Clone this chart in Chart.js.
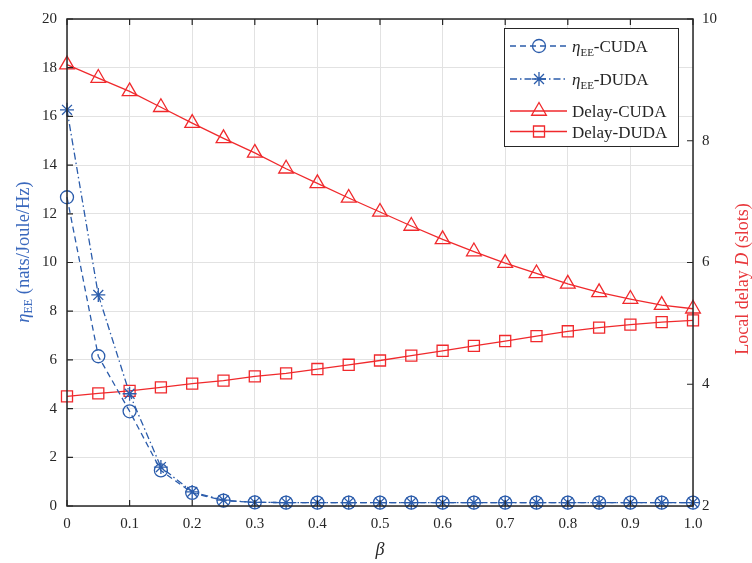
<!DOCTYPE html>
<html><head><meta charset="utf-8">
<style>html,body{margin:0;padding:0;background:#fff;} #wrap{position:relative;width:752px;height:563px;}</style>
<script src="https://cdn.jsdelivr.net/npm/chart.js@4/dist/chart.umd.min.js"></script>
</head><body><div id="wrap"><canvas id="c" width="752" height="563"></canvas></div>
<script>
const betaValues = [0, 0.05, 0.1, 0.15, 0.2, 0.25, 0.3, 0.35, 0.4, 0.45, 0.5, 0.55, 0.6, 0.65, 0.7, 0.75, 0.8, 0.85, 0.9, 0.95, 1.0];
const etaCUDA   = [12.68, 6.15, 3.89, 1.46, 0.54, 0.22, 0.15, 0.14, 0.14, 0.14, 0.14, 0.14, 0.14, 0.14, 0.14, 0.14, 0.14, 0.14, 0.14, 0.14, 0.14];
const etaDUDA   = [16.27, 8.67, 4.61, 1.60, 0.58, 0.24, 0.15, 0.14, 0.14, 0.14, 0.14, 0.14, 0.14, 0.14, 0.14, 0.14, 0.14, 0.14, 0.14, 0.14, 0.14];
const delayCUDA = [9.25, 9.03, 8.81, 8.55, 8.29, 8.04, 7.80, 7.54, 7.30, 7.06, 6.83, 6.60, 6.38, 6.18, 5.99, 5.82, 5.65, 5.51, 5.40, 5.30, 5.24];
const delayDUDA = [3.80, 3.85, 3.89, 3.95, 4.01, 4.06, 4.13, 4.18, 4.25, 4.32, 4.39, 4.47, 4.55, 4.63, 4.71, 4.79, 4.87, 4.93, 4.98, 5.02, 5.05];
const xTickValues = [0, 0.1, 0.2, 0.3, 0.4, 0.5, 0.6, 0.7, 0.8, 0.9, 1.0];
const xTickLabels = ['0', '0.1', '0.2', '0.3', '0.4', '0.5', '0.6', '0.7', '0.8', '0.9', '1.0'];
const seriesNames = ['-CUDA', '-DUDA', 'Delay-CUDA', 'Delay-DUDA'];
const xTitle = 'β';
const leftTitle = ['η', 'EE', ' (nats/Joule/Hz)'];
const rightTitle = ['Local delay ', 'D', ' (slots)'];

const BLUE = '#2b5cab';
const BLUE_T = '#3a68bd';
const RED = '#f0292c';
const RED_T = '#e8383c';
const INK = '#262626';
const SERIF = '"Liberation Serif", "Times New Roman", serif';

const pts = arr => arr.map((v, i) => ({x: betaValues[i], y: v}));

const styles = [
  {color: BLUE, dash: [6, 4], point: 'circle', r: 6.5},
  {color: BLUE, dash: [7, 3, 1.5, 3], point: 'star', r: 7},
  {color: RED, dash: [], point: 'triangle', r: 8.5},
  {color: RED, dash: [], point: 'rect', r: 7.8}
];

function ds(label, data, st, axis) {
  return {
    label, data: pts(data), yAxisID: axis, clip: false,
    borderColor: st.color, borderWidth: 1.3, borderDash: st.dash,
    pointStyle: st.point, pointRadius: st.r, pointHoverRadius: st.r,
    pointBorderColor: st.color, pointBackgroundColor: 'rgba(0,0,0,0)', pointBorderWidth: 1.3,
    tension: 0, fill: false
  };
}

function drawRich(ctx, parts, x, y, align) {
  let total = 0;
  parts.forEach(p => { ctx.font = p.font; p.w = ctx.measureText(p.t).width; total += p.w; });
  let cx = align === 'center' ? x - total / 2 : x;
  parts.forEach(p => { ctx.font = p.font; ctx.fillText(p.t, cx, y + (p.dy || 0)); cx += p.w; });
}

const decor = {
  id: 'decor',
  afterDraw(chart) {
    const ctx = chart.ctx;
    const a = chart.chartArea;
    const sx = chart.scales.x, sy = chart.scales.y, sy1 = chart.scales.y1;
    ctx.save();
    // ticks inward
    ctx.strokeStyle = INK; ctx.lineWidth = 1.2; ctx.setLineDash([]);
    ctx.beginPath();
    sx.ticks.forEach(t => { const px = sx.getPixelForValue(t.value); ctx.moveTo(px, a.bottom); ctx.lineTo(px, a.bottom - 6); ctx.moveTo(px, a.top); ctx.lineTo(px, a.top + 6); });
    sy.ticks.forEach(t => { const py = sy.getPixelForValue(t.value); ctx.moveTo(a.left, py); ctx.lineTo(a.left + 6, py); });
    sy1.ticks.forEach(t => { const py = sy1.getPixelForValue(t.value); ctx.moveTo(a.right, py); ctx.lineTo(a.right - 6, py); });
    ctx.stroke();
    // frame
    ctx.lineWidth = 1.5;
    ctx.strokeRect(a.left, a.top, a.right - a.left, a.bottom - a.top);

    // legend
    const lx = 504, ly = 28, lw = 174, lh = 118;
    ctx.fillStyle = '#fff';
    ctx.fillRect(lx, ly, lw, lh);
    ctx.lineWidth = 1; ctx.strokeStyle = INK;
    ctx.strokeRect(lx + 0.5, ly + 0.5, lw, lh);
    const rows = [46, 79, 111, 131.5];
    ctx.textBaseline = 'alphabetic';
    rows.forEach((ry, i) => {
      const st = styles[i];
      ctx.strokeStyle = st.color; ctx.lineWidth = 1.3; ctx.setLineDash(st.dash);
      ctx.beginPath(); ctx.moveTo(510, ry); ctx.lineTo(567, ry); ctx.stroke();
      ctx.setLineDash([]);
      ctx.fillStyle = 'rgba(0,0,0,0)';
      Chart.helpers.drawPoint(ctx, {pointStyle: st.point, radius: st.r, rotation: 0, borderWidth: 1.3}, 539, ry);
      ctx.fillStyle = INK;
      const main = '17px ' + SERIF;
      let parts;
      if (i < 2) parts = [{t: 'η', font: 'italic 17px ' + SERIF}, {t: 'EE', font: '11px ' + SERIF, dy: 4}, {t: seriesNames[i], font: main}];
      else parts = [{t: seriesNames[i], font: main}];
      drawRich(ctx, parts, 572, ry + 6, 'left');
    });

    // axis titles
    ctx.textBaseline = 'middle';
    ctx.fillStyle = BLUE_T;
    ctx.save();
    ctx.translate(24, 252); ctx.rotate(-Math.PI / 2);
    drawRich(ctx, [{t: leftTitle[0], font: 'italic 18.5px ' + SERIF}, {t: leftTitle[1], font: '12px ' + SERIF, dy: 5}, {t: leftTitle[2], font: '18.5px ' + SERIF}], 0, 0, 'center');
    ctx.restore();
    ctx.fillStyle = RED_T;
    ctx.save();
    ctx.translate(743.5, 279); ctx.rotate(-Math.PI / 2);
    drawRich(ctx, [{t: rightTitle[0], font: '18px ' + SERIF}, {t: rightTitle[1], font: 'italic 18px ' + SERIF}, {t: rightTitle[2], font: '18px ' + SERIF}], 0, 0, 'center');
    ctx.restore();
    ctx.fillStyle = INK;
    drawRich(ctx, [{t: xTitle, font: 'italic 18px ' + SERIF}], (a.left + a.right) / 2, 550, 'center');
    ctx.restore();
  }
};

const gridColor = '#e2e2e2';
const tickFont = {family: SERIF, size: 15};

new Chart(document.getElementById('c'), {
  type: 'line',
  data: {
    datasets: [
      ds('CUDA-eta', etaCUDA, styles[0], 'y'),
      ds('DUDA-eta', etaDUDA, styles[1], 'y'),
      ds('Delay-CUDA', delayCUDA, styles[2], 'y1'),
      ds('Delay-DUDA', delayDUDA, styles[3], 'y1')
    ]
  },
  options: {
    responsive: false, animation: false, devicePixelRatio: 1,
    layout: {padding: {top: 13, left: 0, right: 0, bottom: 0}},
    plugins: {legend: {display: false}, tooltip: {enabled: false}},
    scales: {
      x: {
        type: 'linear', min: 0, max: 1,
        afterBuildTicks: s => { s.ticks = xTickValues.map(v => ({value: v})); },
        afterFit: s => { s.height = 57; },
        ticks: {callback: (v, i) => xTickLabels[i], font: tickFont, color: INK, padding: 9, maxRotation: 0, autoSkip: false},
        grid: {color: gridColor, drawTicks: false, lineWidth: 1},
        border: {display: false}
      },
      y: {
        position: 'left', min: 0, max: 20,
        afterFit: s => { s.width = 67; },
        ticks: {stepSize: 2, font: tickFont, color: INK, padding: 10},
        grid: {color: gridColor, drawTicks: false, lineWidth: 1},
        border: {display: false}
      },
      y1: {
        position: 'right', min: 2, max: 10,
        afterFit: s => { s.width = 59; },
        ticks: {stepSize: 2, font: tickFont, color: INK, padding: 9},
        grid: {display: false, drawTicks: false},
        border: {display: false}
      }
    }
  },
  plugins: [decor]
});
</script>
</body></html>
